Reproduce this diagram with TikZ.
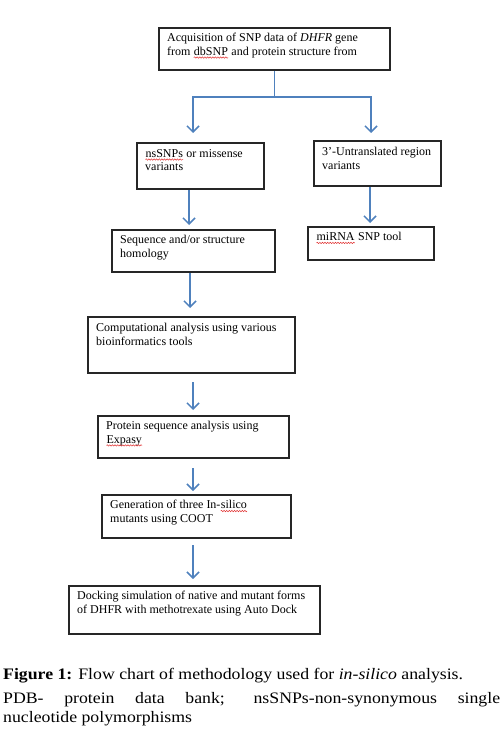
\documentclass[tikz,border=0pt]{standalone}
\usepackage{fontspec}
\setmainfont{Liberation Serif}
\newfontfamily\capfont[FakeStretch=1.11]{Liberation Serif}
\usetikzlibrary{arrows.meta,calc,decorations.pathmorphing}
\definecolor{flowblue}{HTML}{4F81BD}
\definecolor{squig}{HTML}{E03030}
\newcommand\redsq[1]{\tikz[baseline=(sqw.base),x=1pt,y=1pt]{\node[inner sep=0pt,anchor=base west] (sqw) at (0,0) {#1};
  \draw[squig,line width=0.5pt,decorate,decoration={snake,amplitude=0.7pt,segment length=2.6pt}] (0,-2.4) -- (sqw.base east |- 0,-2.4);}}
\begin{document}
\begin{tikzpicture}[x=1pt,y=-1pt,
  flowbox/.style={draw=black!85,line width=1.8pt,inner sep=0pt,anchor=north west},
  boxtext/.style={anchor=north west,inner sep=0pt,align=left,font=\fontsize{12}{13.5}\selectfont},
  arr/.style={draw=flowblue,line width=1.5pt,-{Straight Barb[length=6pt,width=12pt,line width=1.5pt]}},
  lin/.style={draw=flowblue,line width=1.5pt}]
\useasboundingbox (0,0) rectangle (503,735);
% boxes
\node[flowbox,minimum width=231pt,minimum height=42pt] (b1) at (158,27) {};
\node[flowbox,minimum width=127pt,minimum height=46pt] (b2) at (136,142) {};
\node[flowbox,minimum width=127pt,minimum height=45pt] (b3) at (313,140) {};
\node[flowbox,minimum width=163pt,minimum height=42pt] (b4) at (111,229) {};
\node[flowbox,minimum width=126pt,minimum height=33pt] (b5) at (307,226) {};
\node[flowbox,minimum width=207pt,minimum height=56pt] (b6) at (87,316) {};
\node[flowbox,minimum width=191pt,minimum height=42pt] (b7) at (97,415) {};
\node[flowbox,minimum width=189pt,minimum height=43pt] (b8) at (101,494) {};
\node[flowbox,minimum width=251pt,minimum height=48pt] (b9) at (68,585) {};
% texts
\node[boxtext] (t1) at (167,33) {Acquisition of SNP data of \textit{DHFR} gene\\from \redsq{dbSNP} and protein structure from};
\node[boxtext] (t2) at (145,149) {\redsq{nsSNPs} or missense\\variants};
\node[boxtext] (t3) at (322,147) {3'-Untranslated region\\variants};
\node[boxtext] (t4) at (120,235) {Sequence and/or structure\\homology};
\node[boxtext] (t5) at (316,232) {\redsq{miRNA} SNP tool};
\node[boxtext] (t6) at (96,323) {Computational analysis using various\\bioinformatics tools};
\node[boxtext] (t7) at (106,421) {Protein sequence analysis using\\\redsq{Expasy}};
\node[boxtext] (t8) at (110,500) {Generation of three In-\redsq{silico}\\mutants using COOT};
\node[boxtext] (t9) at (77,591) {Docking simulation of native and mutant forms\\of DHFR with methotrexate using Auto Dock};
% arrow tips
\coordinate (a2) at (193,133);
\coordinate (a3) at (371,133);
\coordinate (a4) at (189,225);
\coordinate (a5) at (370,223);
\coordinate (a6s) at (190,273);
\coordinate (a6) at (190,308);
\coordinate (a7s) at (193,382);
\coordinate (a7) at (193,410);
\coordinate (a8s) at (193,468);
\coordinate (a8) at (193,491);
\coordinate (a9s) at (193,545);
\coordinate (a9) at (193,579);
% connectors
\draw[lin] (b1.south) -- ++(0,26) coordinate (j);
\draw[arr] (j) -| (a2);
\draw[arr] (j) -| (a3);
\draw[arr] (b2.south -| a4) -- (a4);
\draw[arr] (b3.south -| a5) -- (a5);
\draw[arr] (a6s) -- (a6);
\draw[arr] (a7s) -- (a7);
\draw[arr] (a8s) -- (a8);
\draw[arr] (a9s) -- (a9);
% caption
\node[anchor=base west,inner sep=0pt,font=\capfont\fontsize{16}{20}\selectfont] (cap1) at (3,679)
  {\textbf{Figure 1:} Flow chart of methodology used for \textit{in-silico} analysis.};
\node[anchor=base west,inner sep=0pt,text width=497pt,align=justify,
  font=\capfont\fontsize{16}{19.5}\selectfont] (cap2) at (3,703)
  {\strut PDB- protein data bank; nsSNPs-non-synonymous single\linebreak nucleotide polymorphisms};
\end{tikzpicture}
\end{document}
